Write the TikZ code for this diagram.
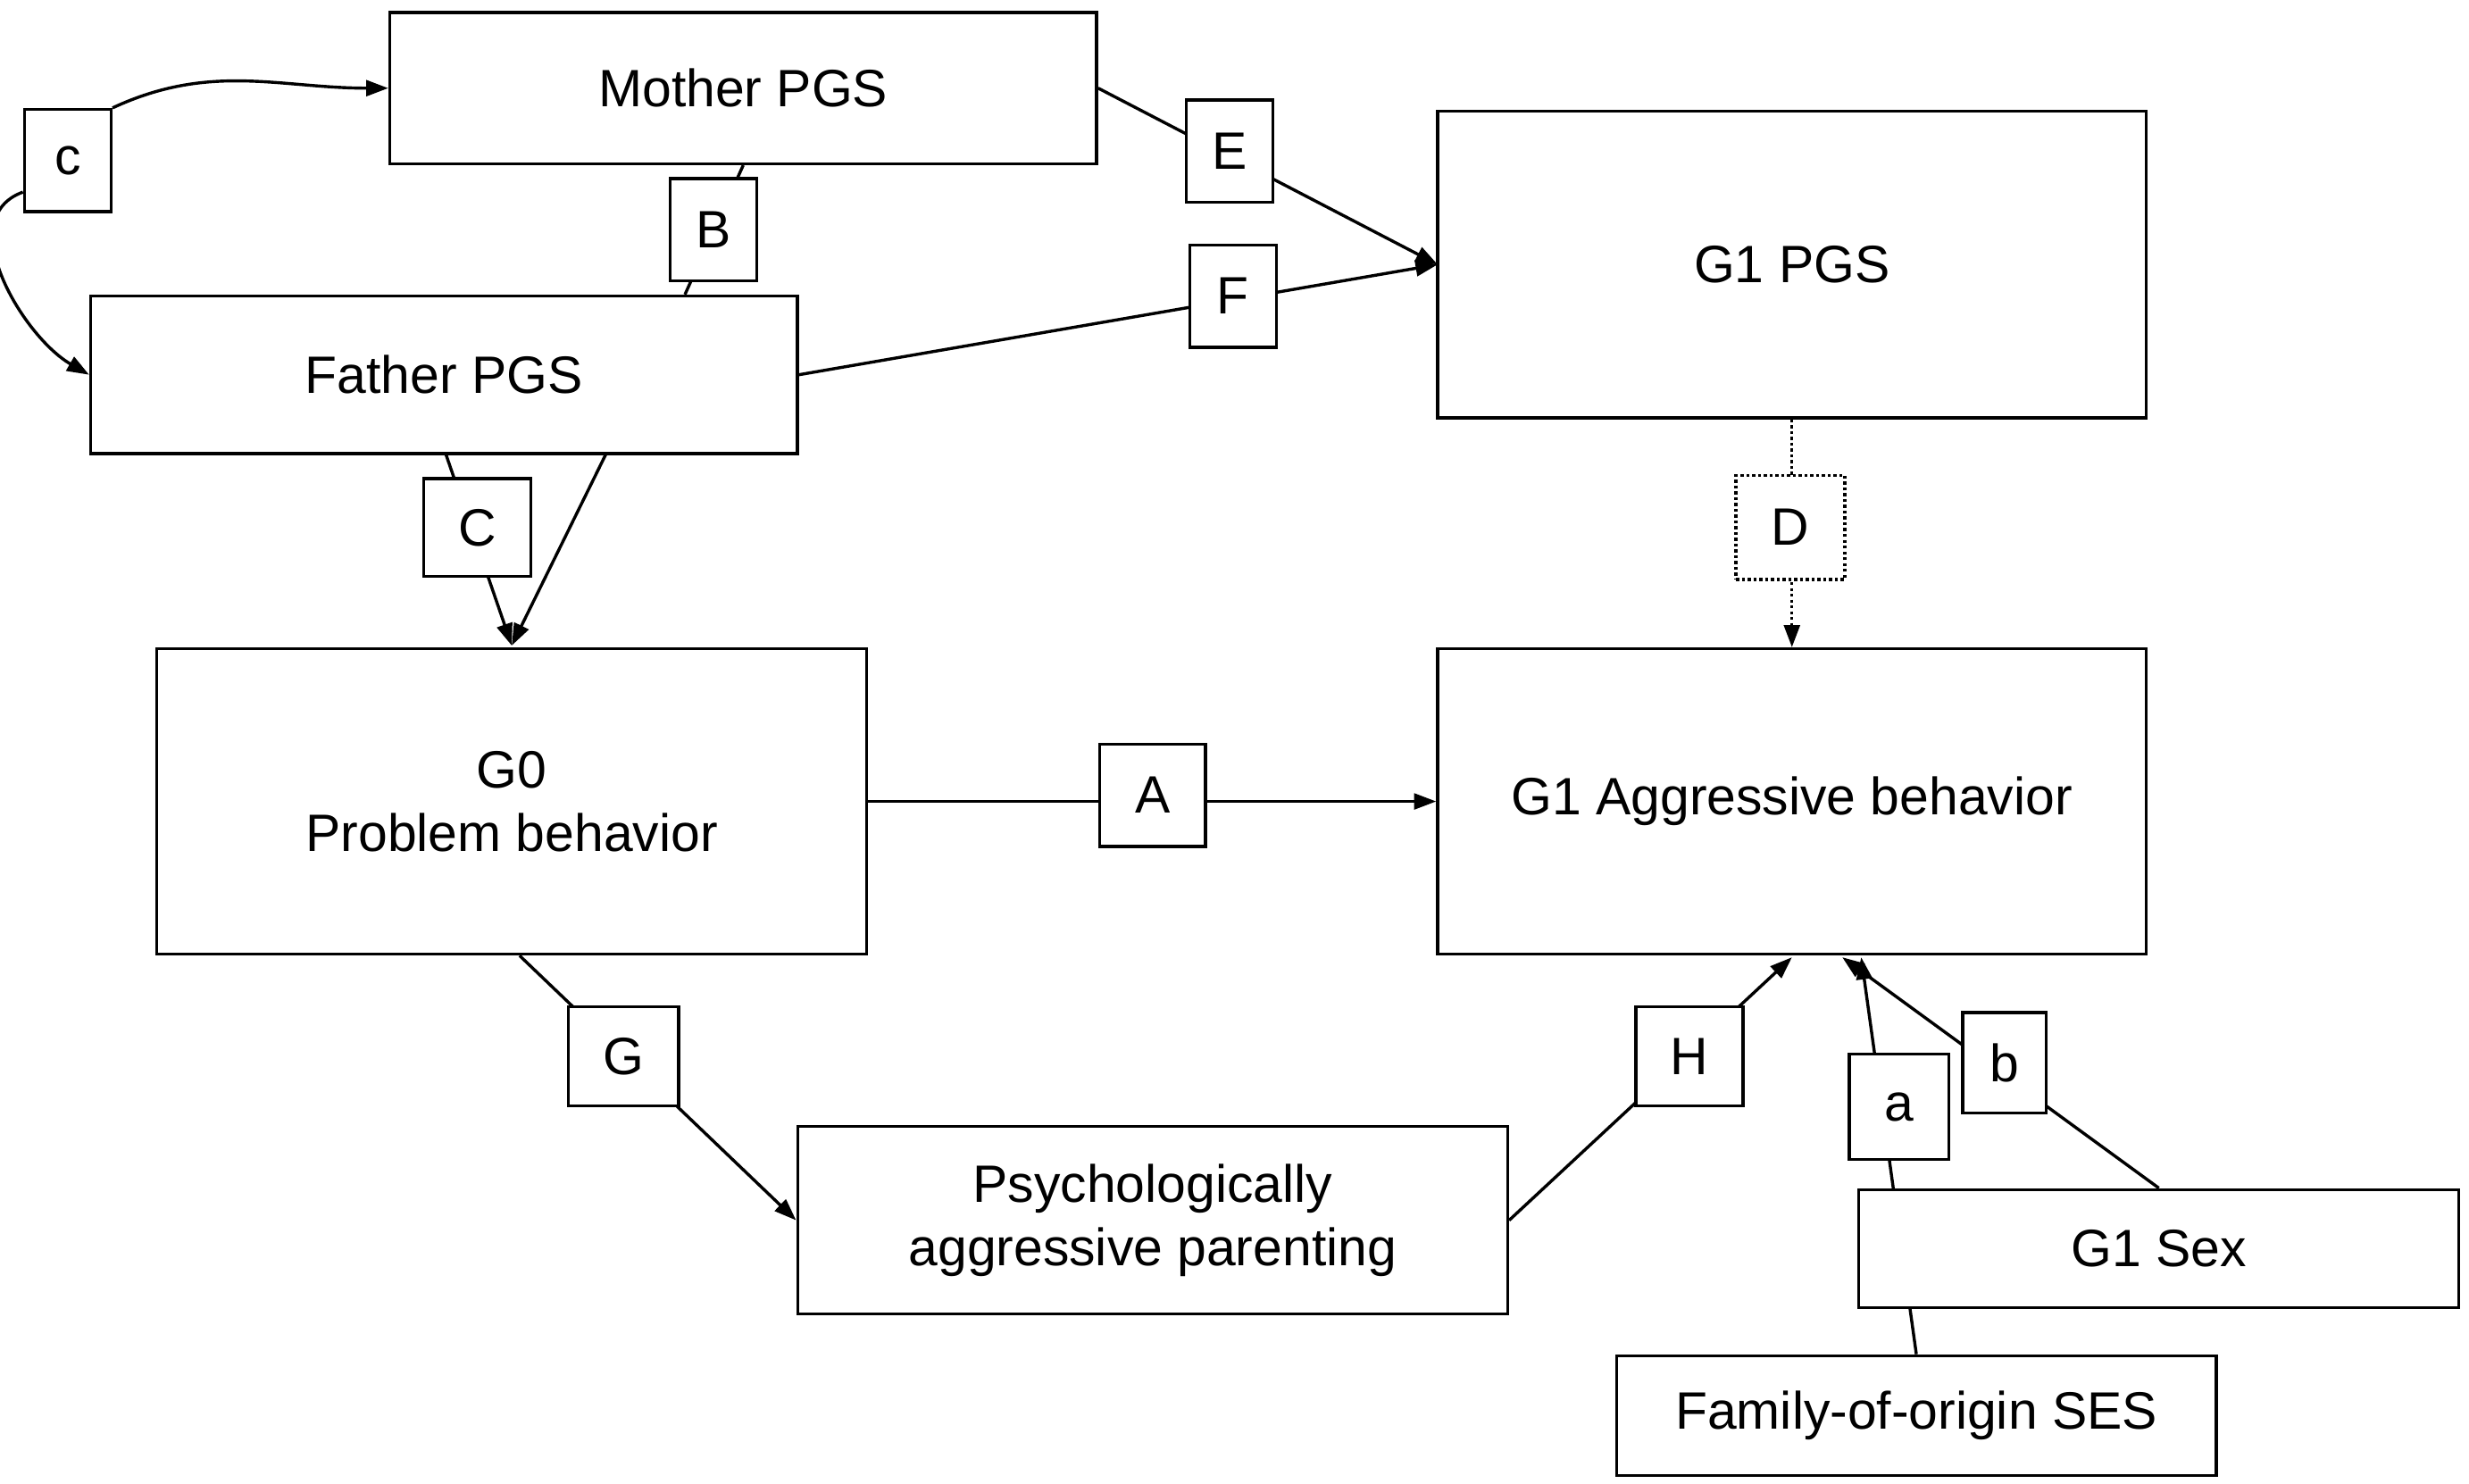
\documentclass[tikz,border=0pt]{standalone}
\usepackage{fontspec}
\setmainfont{Liberation Sans}
\usetikzlibrary{arrows.meta,backgrounds}
\begin{document}
\begin{tikzpicture}[x=0.02cm,y=-0.02cm,
 box/.style={draw,line width=1.1pt,fill=white,inner sep=0pt,font=\fontsize{19}{23}\selectfont,align=center},
 lab/.style={draw,line width=1.1pt,fill=white,inner sep=0pt,minimum width=1.1cm,minimum height=1.3cm,font=\fontsize{19}{23}\selectfont},
 ln/.style={line width=1.1pt},
 ar/.style={ln,-{Triangle[length=0.28cm,width=0.2cm]}}]
\useasboundingbox (0,0) rectangle (1568,942);
\node[box,minimum width=8.98cm,minimum height=1.92cm] (mother) at (472,56) {Mother PGS};
\node[box,minimum width=8.98cm,minimum height=2.0cm] (father) at (282,238) {Father PGS};
\node[box,minimum width=9.0cm,minimum height=3.9cm] (g1pgs) at (1138,168) {G1 PGS};
\node[box,minimum width=9.02cm,minimum height=3.88cm] (g0) at (325,509) {G0\\Problem behavior};
\node[box,minimum width=9.0cm,minimum height=3.88cm] (g1a) at (1138,509) {G1 Aggressive behavior};
\node[box,minimum width=9.02cm,minimum height=2.38cm] (psy) at (732,775) {Psychologically\\aggressive parenting};
\node[box,minimum width=7.62cm,minimum height=1.5cm] (sex) at (1371,793) {G1 Sex};
\node[box,minimum width=7.62cm,minimum height=1.52cm] (ses) at (1217,899) {Family-of-origin SES};
\coordinate (pin) at (913,168);
\coordinate (g0in) at (325,410);
\coordinate (f1) at (283,288);
\coordinate (f2) at (385,288);
\coordinate (hin) at (1138,608);
\coordinate (ain) at (1182,608);
\coordinate (bin) at (1170,608);
\node[lab] (c) at (43,102) {c};
\node[lab] (B) at (453,146) {B};
\node[lab] (E) at (781,96) {E};
\node[lab] (F) at (783,188) {F};
\node[lab,minimum width=1.36cm,minimum height=1.24cm] (C) at (303,335) {C};
\node[lab,densely dotted,minimum width=1.38cm,minimum height=1.32cm] (D) at (1137,335) {D};
\node[lab,minimum width=1.34cm] (A) at (732,505) {A};
\node[lab,minimum width=1.4cm,minimum height=1.26cm] (G) at (396,671) {G};
\node[lab,minimum width=1.36cm,minimum height=1.26cm] (H) at (1073,671) {H};
\node[lab,minimum width=1.26cm,minimum height=1.34cm] (a) at (1206,703) {a};
\node[lab,minimum width=1.06cm,minimum height=1.28cm] (b) at (1273,675) {b};
\begin{scope}[on background layer]
\draw[ar] (mother.east) -- (pin);
\draw[ar] (father.east) -- (pin);
\draw[ln] (mother.south) -- (father.north -| 435,0);
\draw[ar] (f1) -- (g0in);
\draw[ar] (f2) -- (g0in);
\draw[ar,densely dotted] (g1pgs.south) -- (g1a.north);
\draw[ar] (g0.east) -- (g1a.west);
\draw[ar] (g0.south) ++(5,0) -- (psy.west);
\draw[ar] (psy.east) -- (hin);
\draw[ar] (ses.north) -- (ain);
\draw[ar] (sex.north) -- (bin);
\end{scope}
\draw[ln,-{Triangle[length=0.28cm,width=0.2cm]}] (c.north east) to[out=25,in=180] (mother.west);
\draw[ln,-{Triangle[length=0.28cm,width=0.2cm]}] (c.west |- 0,122) to[out=200,in=150] (father.west);
\end{tikzpicture}
\end{document}
